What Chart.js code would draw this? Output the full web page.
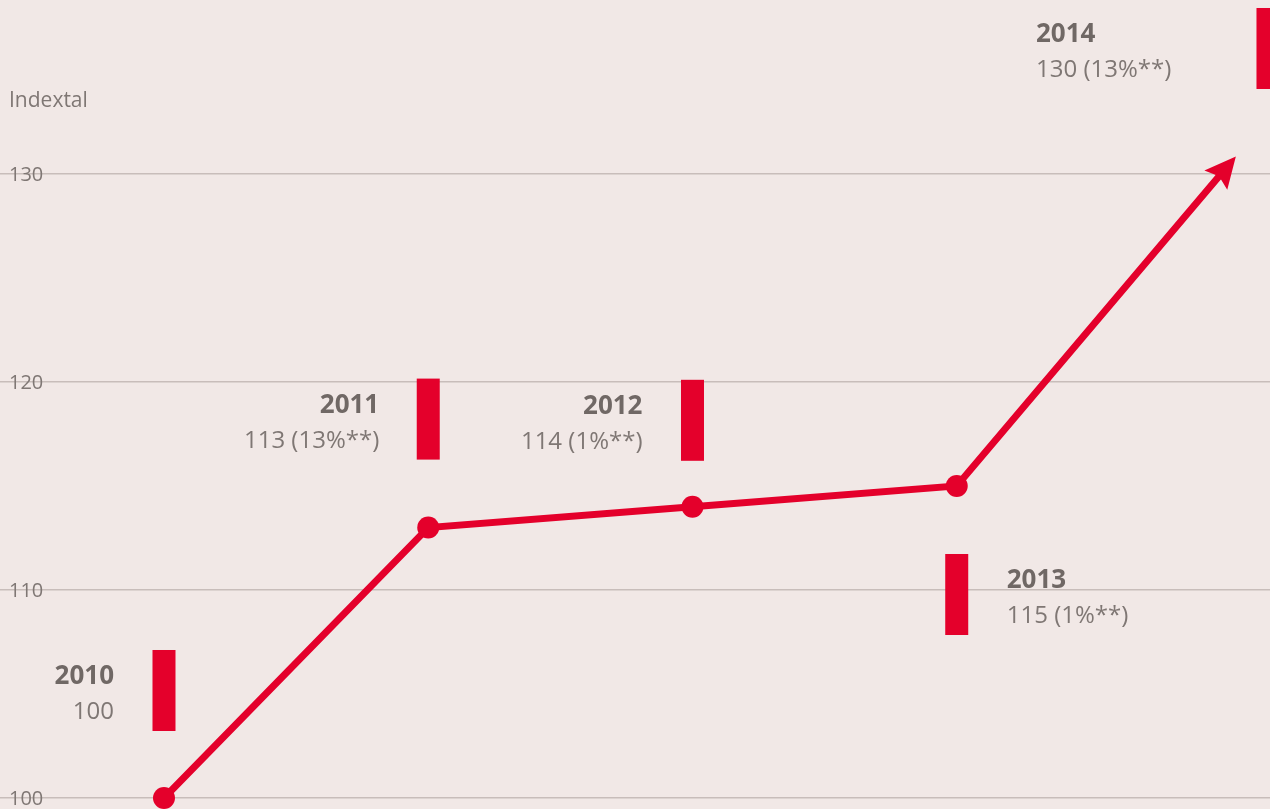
<!DOCTYPE html>
<html>
<head>
<meta charset="utf-8">
<script src="https://cdn.jsdelivr.net/npm/chart.js@4"></script>
<style>
  html, body { margin: 0; padding: 0; background: #f1e8e6; overflow: hidden; }
  #wrap { position: relative; width: 1270px; height: 809px; }
  canvas { display: block; }
</style>
</head>
<body>
<div id="wrap"><canvas id="c" width="1270" height="809"></canvas></div>
<script>
// ---- data ----
const years = [2010, 2011, 2012, 2013, 2014];
const indexValues = [100, 113, 114, 115, 130];
const valueLabels = ['100', '113 (13%**)', '114 (1%**)', '115 (1%**)', '130 (13%**)'];
const yTicks = [100, 110, 120, 130];
const axisTitle = 'Indextal';

// ---- layout of the annotation blocks (pixel offsets relative to each data point) ----
const annotLayout = [
  { barDx: 0,  barDy: -148, textSide: 'right', textDx: -50 },
  { barDx: 0,  barDy: -149, textSide: 'right', textDx: -49 },
  { barDx: 0,  barDy: -127, textSide: 'right', textDx: -50 },
  { barDx: 0,  barDy: 68,   textSide: 'left',  textDx: 50 },
  { barDx: 47, barDy: -166, textSide: 'left',  textDx: -185 }
];

const RED = '#e4002b';
const TXT_BOLD = '#706865';
const TXT = '#7f7774';
const FONT = '"Open Sans", "Noto Sans", sans-serif';

const annotPlugin = {
  id: 'annot',
  afterDatasetsDraw(chart) {
    const ctx = chart.ctx;
    const meta = chart.getDatasetMeta(0);
    const pts = meta.data;
    // arrow head on last point
    const a = pts[pts.length - 2], b = pts[pts.length - 1];
    const dx = b.x - a.x, dy = b.y - a.y;
    const len = Math.hypot(dx, dy);
    const ux = dx / len, uy = dy / len;
    const px = -uy, py = ux;
    const tipX = b.x + ux * 23, tipY = b.y + uy * 23;
    const baseX = b.x - ux * 8, baseY = b.y - uy * 8;
    const hw = 15;
    ctx.save();
    ctx.fillStyle = RED;
    ctx.beginPath();
    ctx.moveTo(tipX, tipY);
    ctx.lineTo(baseX + px * hw, baseY + py * hw);
    ctx.lineTo(b.x - ux * 3, b.y - uy * 3);
    ctx.lineTo(baseX - px * hw, baseY - py * hw);
    ctx.closePath();
    ctx.fill();

    // bars + labels
    pts.forEach((p, i) => {
      const L = annotLayout[i];
      const barW = 23, barH = 81;
      const bx = p.x + L.barDx - barW / 2;
      const by = p.y + L.barDy;
      ctx.fillStyle = RED;
      ctx.fillRect(bx, by, barW, barH);
      const tx = p.x + L.textDx;
      ctx.textAlign = L.textSide === 'right' ? 'right' : 'left';
      ctx.textBaseline = 'alphabetic';
      ctx.fillStyle = TXT_BOLD;
      ctx.font = 'bold 26px ' + FONT;
      ctx.fillText(String(years[i]), tx, by + 34);
      ctx.fillStyle = TXT;
      ctx.font = '400 24px ' + FONT;
      ctx.fillText(valueLabels[i], tx, by + 69);
    });

    // y tick labels + axis title
    const ys = chart.scales.y;
    ctx.fillStyle = TXT;
    ctx.font = '400 20px ' + FONT;
    ctx.textAlign = 'left';
    ctx.textBaseline = 'middle';
    yTicks.forEach(v => {
      ctx.fillText(String(v), 9, ys.getPixelForValue(v) + 1);
    });
    ctx.textBaseline = 'alphabetic';
    ctx.font = '400 21px ' + FONT;
    ctx.fillText(axisTitle, 9, 107);
    ctx.restore();
  }
};

const bgPlugin = {
  id: 'bg',
  beforeDraw(chart) {
    const ctx = chart.ctx;
    ctx.save();
    ctx.fillStyle = '#f1e8e6';
    ctx.fillRect(0, 0, chart.width, chart.height);
    ctx.restore();
  }
};

new Chart(document.getElementById('c'), {
  type: 'line',
  data: {
    datasets: [{
      data: years.map((yr, i) => ({ x: yr, y: indexValues[i] })),
      borderColor: RED,
      borderWidth: 7,
      pointRadius: years.map((_, i) => i === years.length - 1 ? 0 : 11),
      pointHoverRadius: 0,
      pointBackgroundColor: RED,
      pointBorderWidth: 0,
      tension: 0,
      clip: false
    }]
  },
  options: {
    responsive: false,
    animation: false,
    events: [],
    layout: { padding: 0, autoPadding: false },
    plugins: { legend: { display: false }, tooltip: { enabled: false } },
    scales: {
      x: {
        type: 'linear',
        display: false,
        min: 2009.3794,
        max: 2014.1855
      },
      y: {
        type: 'linear',
        display: true,
        min: 99.471,
        max: 138.365,
        afterBuildTicks(scale) { scale.ticks = yTicks.map(v => ({ value: v })); },
        ticks: { display: false },
        border: { display: false },
        grid: { drawTicks: false, color: '#c8bdba', lineWidth: 1.5 }
      }
    }
  },
  plugins: [bgPlugin, annotPlugin]
});
</script>
</body>
</html>
